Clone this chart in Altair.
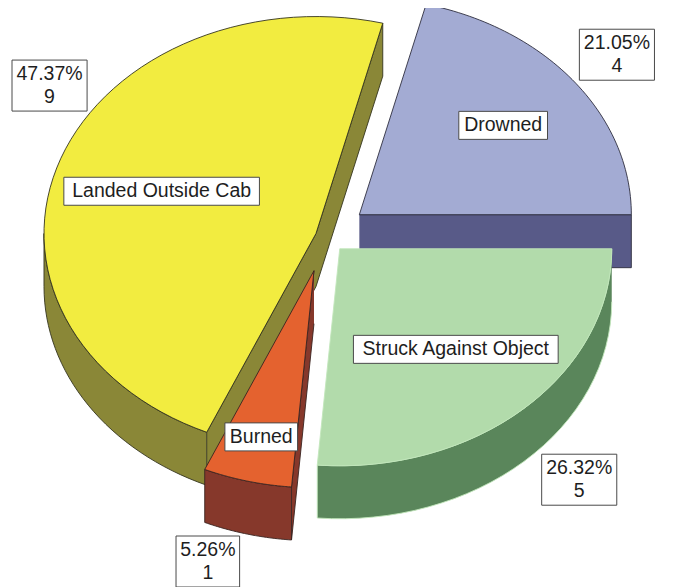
import altair as alt
import pandas as pd

# ---- data ----
CATEGORIES = ["Drowned", "Struck Against Object", "Burned", "Landed Outside Cab"]
COUNTS = [4, 5, 1, 9]

# ---- style ----
TOP_COLORS = ["#A3ABD3", "#B2DBAB", "#E4622F", "#F2EC40"]
WALL_COLORS = ["#585A88", "#5A865B", "#86382B", "#8A8737"]
EDGE_COLORS = ["#2E2E3E", "#C2E6BB", "#3A2420", "#34341E"]
EXPLODE = [0.16, 0.08, 0.165, 0.035]
INNER_R = [0.67, 0.63, 0.79, 0.60]
OUTER_R = [1.2, 1.3, 1.59, 2.1]
PAINT_ORDER = [0, 3, 1, 2]

W, H = 659, 579
CX, CY = 317, 228
RX, RY = 272, 217
DEPTH = 53
START = 14.21
NP = 65
FS = 19.5
LH = 23
BH1, BH2 = 28, 51

ARIAL = {" ": 278, "%": 889, ".": 278, "A": 667, "B": 667, "C": 722, "D": 722,
         "L": 556, "O": 778, "S": 667, "a": 556, "b": 556, "c": 500, "d": 556,
         "e": 556, "g": 556, "i": 222, "j": 222, "k": 500, "m": 833, "n": 556,
         "o": 556, "r": 333, "s": 500, "t": 278, "u": 556, "w": 722}


def text_w(s):
    return sum(ARIAL.get(ch, 556) for ch in s) / 1000.0 * FS


total = sum(COUNTS)
rows = []
for i, (c, n) in enumerate(zip(CATEGORIES, COUNTS)):
    pct = f"{100 * n / total:.2f}%"
    rows.append(dict(idx=i, category=c, count=n, outer=f"{pct}\n{n}",
                     bw_in=text_w(c) * 1.06 + 6,
                     bw_out=max(text_w(pct), text_w(str(n))) * 1.06 + 5))
df = pd.DataFrame(rows)


def lst(v):
    return "[" + ",".join(str(x) for x in v) + "]"


RAD = "PI/180"
base = (
    alt.Chart(df)
    .transform_joinaggregate(total="sum(count)")
    .transform_window(cum="sum(count)", sort=[alt.SortField("idx")], frame=[None, 0])
    .transform_calculate(a0=f"{START} + 360*(datum.cum-datum.count)/datum.total")
    .transform_calculate(a1=f"{START} + 360*datum.cum/datum.total")
    .transform_calculate(mid="(datum.a0+datum.a1)/2")
    .transform_calculate(e=f"{lst(EXPLODE)}[datum.idx]")
    .transform_calculate(cxs=f"{CX} + datum.e*{RX}*sin(datum.mid*{RAD})")
    .transform_calculate(cys=f"{CY} - datum.e*{RY}*cos(datum.mid*{RAD})")
)

keep = (
    "datum.face=='top' || (datum.face=='outer' && datum.w1>datum.w0) || "
    f"(datum.face=='rs' && sin(datum.a0*{RAD})<-0.001 && datum.k<4) || "
    f"(datum.face=='re' && sin(datum.a1*{RAD})>0.001 && datum.k<4)"
)
ang = (
    f"datum.face=='top' ? datum.a0 + (datum.a1-datum.a0)*clamp(datum.k-1,0,{NP-2})/{NP-2} : "
    f"datum.face=='outer' ? datum.w0 + (datum.w1-datum.w0)*(datum.k<=32 ? datum.k : {NP}-datum.k)/32 : "
    "datum.face=='rs' ? datum.a0 : datum.a1"
)
rim = (
    f"datum.face=='top' ? ((datum.k==0||datum.k=={NP})?0:1) : "
    "datum.face=='outer' ? 1 : ((datum.k==1||datum.k==2)?1:0)"
)
down = (
    "datum.face=='top' ? 0 : datum.face=='outer' ? (datum.k>32?1:0) : "
    "((datum.k==2||datum.k==3)?1:0)"
)

poly = (
    base.transform_calculate(faces="['top','outer','rs','re']")
    .transform_flatten(["faces"], as_=["face"])
    .transform_calculate(ks=f"sequence(0,{NP + 1})")
    .transform_flatten(["ks"], as_=["k"])
    .transform_calculate(w0="max(datum.a0,90)")
    .transform_calculate(w1="min(datum.a1,270)")
    .transform_filter(keep)
    .transform_calculate(ang=ang)
    .transform_calculate(rim=rim)
    .transform_calculate(down=down)
    .transform_calculate(px=f"datum.cxs + datum.rim*{RX}*sin(datum.ang*{RAD})")
    .transform_calculate(py=f"datum.cys - datum.rim*{RY}*cos(datum.ang*{RAD}) + datum.down*{DEPTH}")
)

xs = alt.Scale(domain=[0, W], nice=False, zero=False)
ys = alt.Scale(domain=[0, H], nice=False, zero=False, reverse=True)

layers = []
for i in PAINT_ORDER:
    enc = dict(
        x=alt.X("px:Q", scale=xs, axis=None),
        y=alt.Y("py:Q", scale=ys, axis=None),
        order=alt.Order("k:Q"),
        detail="face:N",
    )
    walls = poly.transform_filter(f"datum.idx=={i} && datum.face!='top'").mark_line(
        fill=WALL_COLORS[i], stroke=EDGE_COLORS[i], strokeWidth=0.9, strokeJoin="round"
    ).encode(**enc)
    top = poly.transform_filter(f"datum.idx=={i} && datum.face=='top'").mark_line(
        fill=TOP_COLORS[i], stroke=EDGE_COLORS[i], strokeWidth=0.9, strokeJoin="round"
    ).encode(**enc)
    layers += [walls, top]

lab = (
    base.transform_calculate(ir=f"{lst(INNER_R)}[datum.idx]")
    .transform_calculate(orr=f"{lst(OUTER_R)}[datum.idx]")
    .transform_calculate(lx=f"datum.cxs + datum.ir*{RX}*sin(datum.mid*{RAD})")
    .transform_calculate(ly=f"datum.cys - datum.ir*{RY}*cos(datum.mid*{RAD})")
    .transform_calculate(
        ox=f"clamp(datum.cxs + datum.orr*{RX}*sin(datum.mid*{RAD}), datum.bw_out/2+4, {W}-datum.bw_out/2-4)")
    .transform_calculate(
        oy=f"clamp(datum.cys - datum.orr*{RY}*cos(datum.mid*{RAD}) + 0.6*{DEPTH}*max(0,-cos(datum.mid*{RAD})), {BH2/2+4}, {H - BH2/2})")
    .transform_calculate(lx0="datum.lx - datum.bw_in/2", lx1="datum.lx + datum.bw_in/2")
    .transform_calculate(ly0=f"datum.ly - {BH1/2}", ly1=f"datum.ly + {BH1/2}")
    .transform_calculate(ox0="datum.ox - datum.bw_out/2", ox1="datum.ox + datum.bw_out/2")
    .transform_calculate(oy0=f"datum.oy - {BH2/2}", oy1=f"datum.oy + {BH2/2}")
)

box_style = dict(fill="white", stroke="#4a4a4a", strokeWidth=1)
txt_style = dict(font="Liberation Sans", fontSize=FS, color="#1e1e1e", align="center",
                 baseline="middle", lineBreak="\n", lineHeight=LH)

in_box = lab.mark_rect(**box_style).encode(
    x=alt.X("lx0:Q", scale=xs, axis=None), x2="lx1:Q",
    y=alt.Y("ly0:Q", scale=ys, axis=None), y2="ly1:Q")
in_txt = lab.mark_text(**txt_style).encode(
    x=alt.X("lx:Q", scale=xs, axis=None), y=alt.Y("ly:Q", scale=ys, axis=None),
    text="category:N")
out_box = lab.mark_rect(**box_style).encode(
    x=alt.X("ox0:Q", scale=xs, axis=None), x2="ox1:Q",
    y=alt.Y("oy0:Q", scale=ys, axis=None), y2="oy1:Q")
out_txt = lab.mark_text(dy=-LH / 2, **txt_style).encode(
    x=alt.X("ox:Q", scale=xs, axis=None), y=alt.Y("oy:Q", scale=ys, axis=None),
    text="outer:N")

chart = (
    alt.layer(*layers, in_box, in_txt, out_box, out_txt)
    .properties(width=W, height=H, padding=0,
                autosize=alt.AutoSizeParams(type="none"))
    .configure_view(stroke=None)
)

chart.save("out.html", embed_options={"renderer": "svg", "actions": False})
